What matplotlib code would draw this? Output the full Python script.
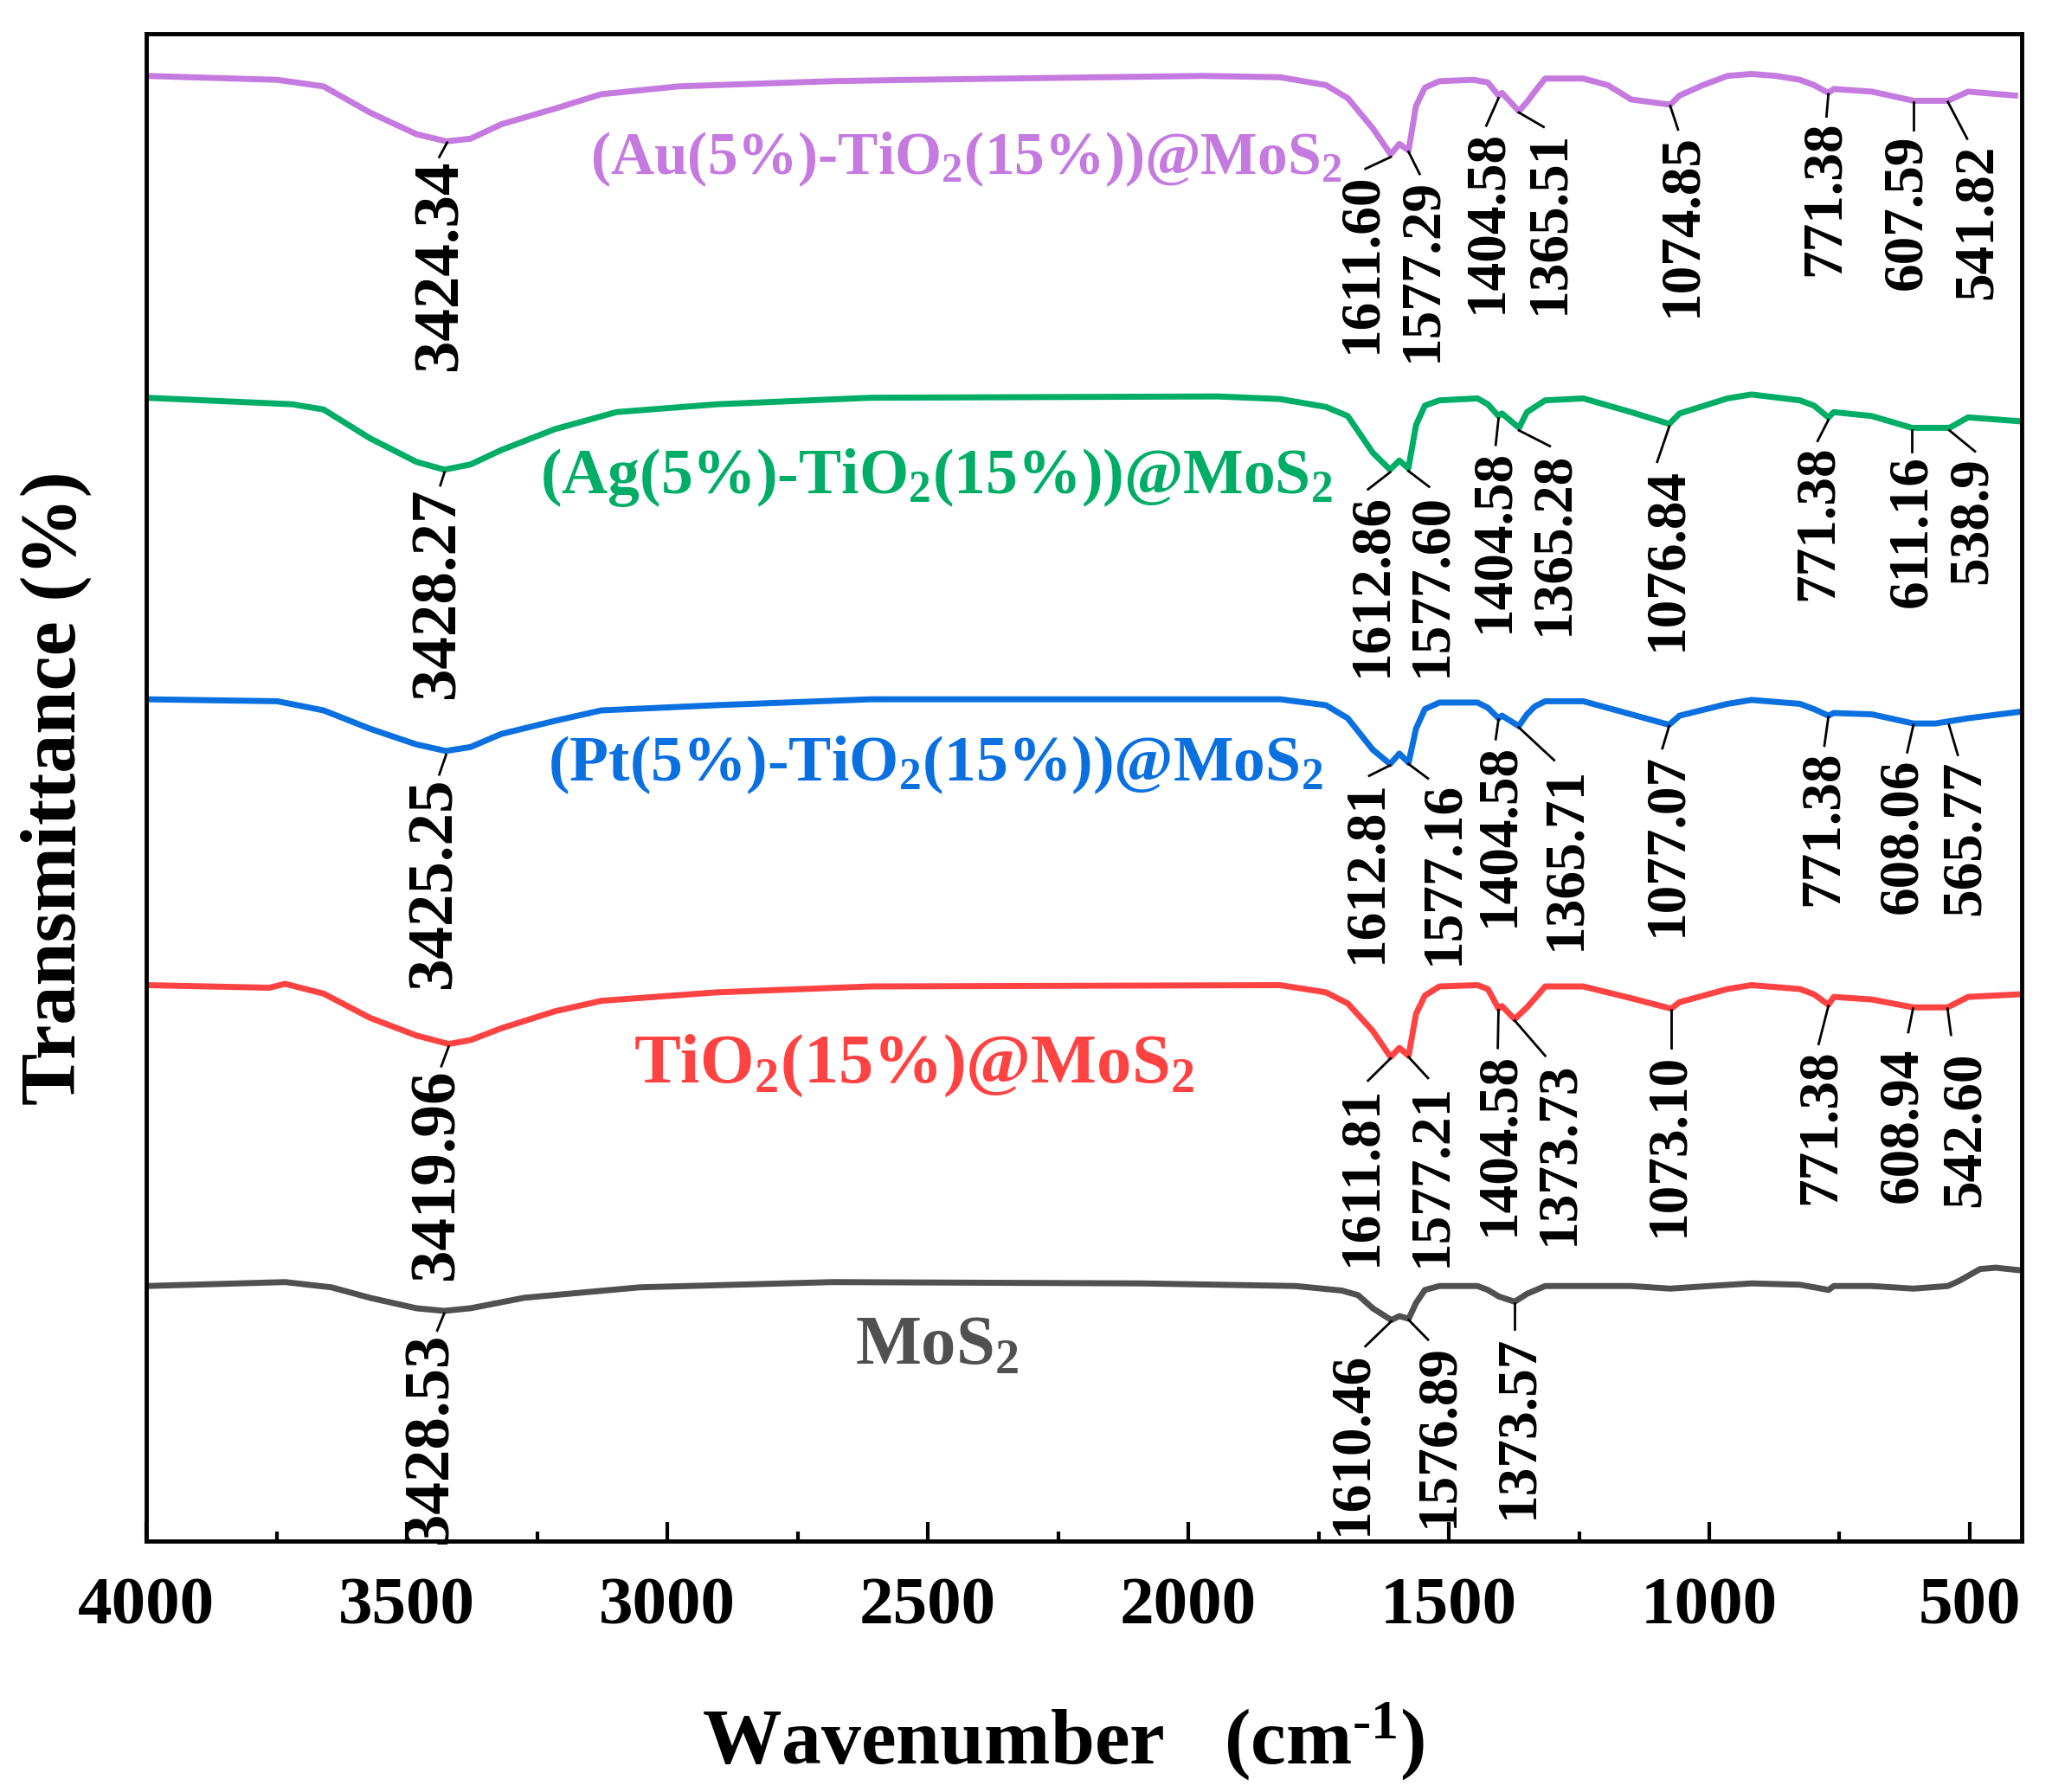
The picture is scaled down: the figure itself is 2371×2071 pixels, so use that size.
import matplotlib
matplotlib.use('Agg')
import matplotlib.pyplot as plt
from matplotlib.ticker import MultipleLocator

plt.rcParams['font.family'] = ['Liberation Serif', 'DejaVu Serif']
plt.rcParams['font.weight'] = 'bold'
plt.rcParams['mathtext.fontset'] = 'custom'
plt.rcParams['mathtext.rm'] = 'Liberation Serif:bold'
plt.rcParams['mathtext.it'] = 'Liberation Serif:bold'
plt.rcParams['mathtext.bf'] = 'Liberation Serif:bold'

# wavenumber (cm-1) and stacked transmittance
wn_au = [4000, 3749, 3660, 3571, 3482, 3424.34, 3378, 3319, 3216, 3127, 2979, 2683, 2535, 1973, 1824,
         1736, 1694, 1646, 1611.60, 1595, 1577.29, 1563, 1546, 1518, 1453, 1425, 1404.58, 1398, 1365.51,
         1350, 1335, 1315, 1242, 1195, 1150, 1074.85, 1057, 1012, 965, 919, 872, 826, 799, 771.38, 761,
         688, 607.59, 541.82, 503, 413]
t_au = [112.0, 111.7, 111.2, 109.2, 107.55, 107.0, 107.2, 108.3, 109.5, 110.6, 111.2, 111.6, 111.7,
        112.0, 111.9, 111.3, 110.3, 108.0, 106.0, 106.8, 106.3, 109.7, 111.1, 111.6, 111.7, 111.5,
        110.5, 110.7, 109.3, 110.0, 110.8, 111.8, 111.8, 111.3, 110.2, 109.8, 110.5, 111.3, 112.0,
        112.15, 112.0, 111.7, 111.3, 110.7, 111.0, 110.8, 110.1, 110.1, 110.8, 110.5]

wn_ag = [4000, 3720, 3660, 3571, 3482, 3428.27, 3378, 3319, 3216, 3098, 2905, 2609, 1944, 1824, 1736,
         1694, 1646, 1612.86, 1595, 1577.60, 1563, 1546, 1518, 1445, 1425, 1404.58, 1398, 1365.28, 1350,
         1315, 1242, 1150, 1076.84, 1057, 965, 919, 826, 799, 771.38, 761, 688, 611.16, 538.9, 503, 403]
t_ag = [87.4, 86.9, 86.5, 84.3, 82.5, 81.9, 82.3, 83.4, 85.0, 86.3, 86.9, 87.4, 87.5, 87.3, 86.7,
        86.0, 83.2, 81.9, 82.6, 82.0, 85.3, 86.8, 87.2, 87.35, 86.9, 86.0, 86.2, 85.1, 86.3,
        87.2, 87.35, 86.3, 85.4, 86.2, 87.35, 87.65, 87.2, 86.8, 85.9, 86.3, 86.0, 85.1, 85.1, 85.9, 85.6]

wn_pt = [4000, 3749, 3660, 3571, 3482, 3425.25, 3378, 3319, 3216, 3127, 2905, 2609, 1824, 1736, 1694,
         1646, 1612.81, 1595, 1577.16, 1563, 1546, 1518, 1445, 1425, 1404.58, 1398, 1365.71, 1350, 1335,
         1315, 1242, 1150, 1077.07, 1057, 965, 919, 826, 799, 771.38, 761, 688, 608.06, 565.77, 503, 403]
t_pt = [64.35, 64.2, 63.5, 62.1, 60.9, 60.4, 60.7, 61.7, 62.7, 63.5, 63.9, 64.35, 64.35, 63.9, 62.9,
        60.5, 59.4, 60.2, 59.5, 62.1, 63.6, 64.1, 64.1, 63.7, 62.9, 63.1, 62.3, 63.2, 63.8,
        64.2, 64.2, 63.2, 62.4, 63.1, 64.0, 64.3, 64.0, 63.6, 63.1, 63.3, 63.2, 62.5, 62.5, 62.9, 63.4]

wn_ti = [4000, 3764, 3734, 3660, 3571, 3482, 3419.96, 3378, 3319, 3216, 3127, 2905, 2609, 1824, 1736,
         1694, 1646, 1611.81, 1595, 1577.21, 1563, 1546, 1518, 1445, 1425, 1404.58, 1398, 1373.73, 1350,
         1330, 1315, 1242, 1150, 1073.10, 1057, 965, 919, 826, 799, 771.38, 761, 688, 608.94, 542.60,
         503, 403]
t_ti = [42.5, 42.3, 42.6, 41.85, 40.0, 38.65, 38.0, 38.3, 39.2, 40.5, 41.3, 41.95, 42.4, 42.5, 41.95,
        41.1, 39.0, 37.0, 37.7, 37.1, 40.3, 41.7, 42.4, 42.5, 42.2, 40.7, 40.9, 39.9, 40.8,
        41.7, 42.4, 42.4, 41.5, 40.7, 41.2, 42.2, 42.5, 42.2, 41.8, 41.0, 41.6, 41.4, 40.8, 40.8,
        41.6, 41.8]

wn_mos = [4000, 3734, 3645, 3571, 3482, 3428.53, 3378, 3275, 3053, 2683, 2090, 1794, 1705, 1674, 1646,
          1610.46, 1595, 1576.89, 1563, 1546, 1518, 1445, 1425, 1404, 1373.57, 1350, 1315, 1242, 1150,
          1075, 1000, 919, 826, 771, 761, 688, 608, 542, 520, 480, 450, 403]
t_mos = [19.5, 19.8, 19.4, 18.6, 17.8, 17.6, 17.8, 18.6, 19.4, 19.8, 19.7, 19.5, 19.15, 18.8, 17.8,
         16.9, 17.2, 17.0, 18.2, 19.2, 19.5, 19.5, 19.2, 18.7, 18.3, 18.9, 19.5, 19.5, 19.5,
         19.3, 19.5, 19.7, 19.6, 19.2, 19.5, 19.5, 19.3, 19.5, 19.9, 20.8, 20.9, 20.7]

names = ['(Au(5%)-TiO$_2$(15%))@MoS$_2$', '(Ag(5%)-TiO$_2$(15%))@MoS$_2$',
         '(Pt(5%)-TiO$_2$(15%))@MoS$_2$', 'TiO$_2$(15%)@MoS$_2$', 'MoS$_2$']

# peak labels
peaks_au = ['3424.34', '1611.60', '1577.29', '1404.58', '1365.51', '1074.85', '771.38', '607.59', '541.82']
peaks_ag = ['3428.27', '1612.86', '1577.60', '1404.58', '1365.28', '1076.84', '771.38', '611.16', '538.9']
peaks_pt = ['3425.25', '1612.81', '1577.16', '1404.58', '1365.71', '1077.07', '771.38', '608.06', '565.77']
peaks_ti = ['3419.96', '1611.81', '1577.21', '1404.58', '1373.73', '1073.10', '771.38', '608.94', '542.60']
peaks_mos = ['3428.53', '1610.46', '1576.89', '1373.57']

# where the peak labels sit: text x, text top, leader x0, y0, x1, y1
lay_au = [(3435, 105.6, 3423, 106.9, 3438, 105.8), (1667, 104.6, 1611.6, 105.8, 1660, 104.9),
          (1552, 104.2, 1577.3, 106.2, 1556, 104.5), (1427, 107.9, 1404.6, 110.3, 1428, 108.2),
          (1307, 107.8, 1365.5, 109.2, 1318, 108.1), (1053, 107.6, 1074.9, 109.7, 1060, 107.9),
          (777, 108.6, 771.4, 110.6, 775, 108.9), (620, 107.5, 607.6, 110.0, 607.6, 107.9),
          (486, 106.8, 541.8, 110.0, 505, 107.2)]
lay_ag = [(3440, 80.5, 3428, 81.7, 3436, 80.7), (1648, 80.1, 1612.9, 81.7, 1655, 80.4),
          (1533, 80.1, 1577.6, 81.8, 1538, 80.6), (1413, 83.5, 1404.6, 85.8, 1410, 83.8),
          (1298, 83.3, 1365.3, 84.9, 1306, 83.7), (1081, 82.1, 1076.8, 85.2, 1100, 82.5),
          (791, 83.8, 771.4, 85.7, 792, 84.1), (611, 83.0, 611.2, 84.9, 611.2, 83.3),
          (495, 82.9, 538.9, 84.9, 490, 83.3)]
lay_pt = [(3446, 58.4, 3425, 60.1, 3438, 58.6), (1658, 58.2, 1612.8, 59.3, 1653, 58.5),
          (1510, 58.1, 1577.2, 59.4, 1540, 58.3), (1404, 61.0, 1404.6, 62.8, 1410, 61.3),
          (1275, 59.2, 1365.7, 62.2, 1298, 59.7), (1081, 60.3, 1077.1, 62.3, 1090, 60.6),
          (781, 60.4, 771.4, 63.0, 779, 60.8), (629, 59.8, 608.1, 62.4, 620, 60.3),
          (509, 59.7, 540, 62.4, 523, 60.1)]
lay_ti = [(3441, 36.1, 3420, 37.8, 3434, 36.3), (1667, 34.8, 1611.8, 36.9, 1655, 35.2),
          (1533, 35.0, 1577.2, 37.0, 1540, 35.4), (1404, 37.4, 1404.6, 40.6, 1406, 37.7),
          (1289, 36.7, 1373.7, 39.8, 1315, 37.1), (1077, 37.3, 1073.1, 40.6, 1073.1, 37.7),
          (786, 37.6, 771.4, 40.9, 790, 38.0), (629, 37.7, 608.9, 40.7, 618, 38.9),
          (509, 37.4, 542.6, 40.7, 536, 38.7)]
lay_mos = [(3453, 15.9, 3428.5, 17.4, 3442, 16.1), (1685, 14.5, 1610.5, 16.8, 1660, 14.9),
           (1519, 15.1, 1576.9, 16.9, 1540, 15.4), (1367, 15.8, 1373.6, 18.2, 1373.6, 16.2)]

colors = ['#C57AE0', '#00AD67', '#0A70E0', '#FF4242', '#505050']
name_pos = [(2426, 105.6, 50), (2483, 81.3, 53), (2486, 59.3, 53), (2526, 36.3, 58), (2483, 14.8, 58)]

fig = plt.figure(figsize=(23.71, 20.71), dpi=100)
ax = fig.add_axes([0.0714, 0.140, 0.9139, 0.841])

series = [(wn_au, t_au, peaks_au, lay_au), (wn_ag, t_ag, peaks_ag, lay_ag), (wn_pt, t_pt, peaks_pt, lay_pt),
          (wn_ti, t_ti, peaks_ti, lay_ti), (wn_mos, t_mos, peaks_mos, lay_mos)]

for i, (wn, t, pk, lay) in enumerate(series):
    ax.plot(wn, t, color=colors[i], lw=5, solid_joinstyle='round')
    for j, (lab, (tx, ty, x0, y0, x1, y1)) in enumerate(zip(pk, lay)):
        ax.plot([x0, x1], [y0, y1], color='black', lw=2)
        # the O-H band labels are drawn a bit larger
        fs = 54 if j == 0 else 47
        ax.text(tx, ty, lab, rotation=90, ha='center', va='top', fontsize=fs, fontweight='bold')
    nx, ny, fs = name_pos[i]
    ax.text(nx, ny, names[i], color=colors[i], ha='center', va='center', fontsize=fs, fontweight='bold')

ax.set_xlim(4000, 400)
ax.set_ylim(0, 115.2)
ax.set_yticks([])
ax.xaxis.set_major_locator(MultipleLocator(500))
ax.xaxis.set_minor_locator(MultipleLocator(250))
ax.tick_params(axis='x', which='major', direction='in', length=16, width=3, labelsize=57, pad=30)
ax.tick_params(axis='x', which='minor', direction='in', length=8, width=3)
for s in ax.spines.values():
    s.set_linewidth(3.5)

ax.set_xlabel(r'Wavenumber   (cm$^{\text{-}1}$)', fontsize=66, fontweight='bold')
ax.xaxis.set_label_coords(0.489, -0.106)
ax.set_ylabel('Transmittance (%)', fontsize=65, fontweight='bold')
ax.yaxis.set_label_coords(-0.029, 0.5)

fig.savefig('out.png', dpi=100)
